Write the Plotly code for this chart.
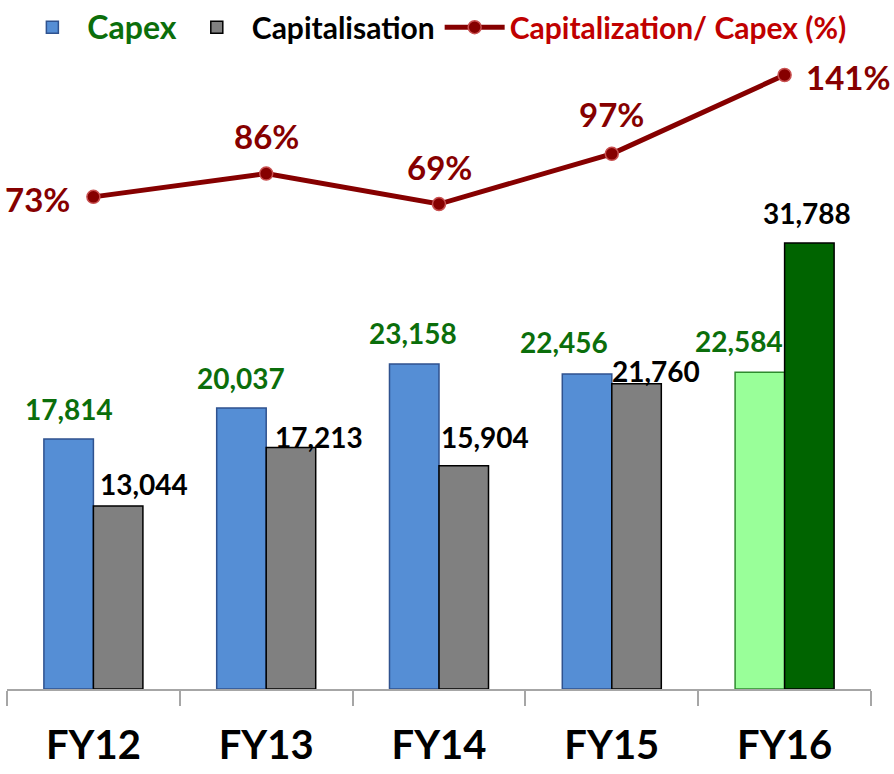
import plotly.graph_objects as go

# --- donnees ---
annees = ["FY12", "FY13", "FY14", "FY15", "FY16"]
capex = [17814, 20037, 23158, 22456, 22584]
capitalisation = [13044, 17213, 15904, 21760, 31788]
ratio_pct = [73, 86, 69, 97, 141]

# couleurs (FY16 mis en avant en vert)
couleurs_capex = ["#558ED5", "#558ED5", "#558ED5", "#558ED5", "#99FF99"]
bords_capex = ["#2F528F", "#2F528F", "#2F528F", "#2F528F", "#2E8B2E"]
couleurs_cap = ["#808080", "#808080", "#808080", "#808080", "#006400"]

VERT = "#0B6E0B"
ROUGE_FONCE = "#860000"
POLICE = "Lato"

# decalages des etiquettes (pixels) - placement manuel comme dans l'original
dx_capex = [-24.5, -25.5, -26.5, -47.5, -45.5]
dy_capex = [30, 30, 31, 32, 31]
dx_cap = [50.5, 52.5, 45.5, 44.5, 22.5]
dy_cap = [22, 11, 29, 13, 30]
dx_ratio = [-56, 0, 0, 0, 63]
dy_ratio = [-2, 38, 37, 40, -2]

fig = go.Figure()

fig.add_trace(go.Bar(
    x=annees, y=capex,
    name=f"<span style='color:{VERT};font-size:32px'>Capex</span>",
    marker=dict(color=couleurs_capex, line=dict(color=bords_capex, width=1.5)),
))
fig.add_trace(go.Bar(
    x=annees, y=capitalisation,
    name="<span style='color:black'>Capitalisation</span>",
    marker=dict(color=couleurs_cap, line=dict(color="black", width=1.5)),
))
fig.add_trace(go.Scatter(
    x=annees, y=ratio_pct, yaxis="y2",
    name="<span style='color:#C00000'>Capitalization/ Capex (%)</span>",
    mode="lines+markers",
    line=dict(color=ROUGE_FONCE, width=5),
    marker=dict(size=13, color=ROUGE_FONCE, line=dict(color="#C85050", width=1.5)),
))

# etiquettes des barres
for i, an in enumerate(annees):
    fig.add_annotation(x=an, y=capex[i], xref="x", yref="y",
                       text=f"{capex[i]:,}", showarrow=False,
                       xshift=dx_capex[i], yshift=dy_capex[i],
                       font=dict(family=POLICE, size=28, color=VERT, weight="bold"))
    fig.add_annotation(x=an, y=capitalisation[i], xref="x", yref="y",
                       text=f"{capitalisation[i]:,}", showarrow=False,
                       xshift=dx_cap[i], yshift=dy_cap[i],
                       font=dict(family=POLICE, size=28, color="black", weight="bold"))
    fig.add_annotation(x=an, y=ratio_pct[i], xref="x", yref="y2",
                       text=f"{ratio_pct[i]}%", showarrow=False,
                       xshift=dx_ratio[i], yshift=dy_ratio[i],
                       font=dict(family=POLICE, size=33, color=ROUGE_FONCE, weight="bold"))

fig.update_layout(
    width=894, height=774,
    margin=dict(l=7, r=23, t=50, b=85, autoexpand=False),
    plot_bgcolor="white",
    paper_bgcolor="white",
    barmode="group",
    bargap=0.427,
    bargroupgap=0,
    showlegend=True,
    legend=dict(
        orientation="h",
        x=0.012, xanchor="left",
        y=0.995, yanchor="bottom",
        font=dict(family=POLICE, size=30, weight="bold"),
        itemwidth=60,
        traceorder="normal",
        bgcolor="rgba(0,0,0,0)",
    ),
    xaxis=dict(
        range=[-0.5, len(annees) - 0.5],
        showline=True, linecolor="#A6A6A6", linewidth=1.5,
        ticks="outside", tickson="boundaries", ticklen=15,
        tickcolor="#A6A6A6", tickwidth=1.5,
        tickfont=dict(family=POLICE, size=40, color="black", weight="bold"),
        ticklabelstandoff=20,
        showgrid=False,
        automargin=False,
    ),
    yaxis=dict(range=[0, 45545], visible=False, showgrid=False),
    yaxis2=dict(range=[-201.6, 154.95], overlaying="y", visible=False,
                showgrid=False),
)

# pas de marge autour de la page pour garder la taille exacte
fig.write_html(
    "out.html",
    config={"displayModeBar": False},
    post_script="document.body.style.margin='0';document.body.style.overflow='hidden';",
)
